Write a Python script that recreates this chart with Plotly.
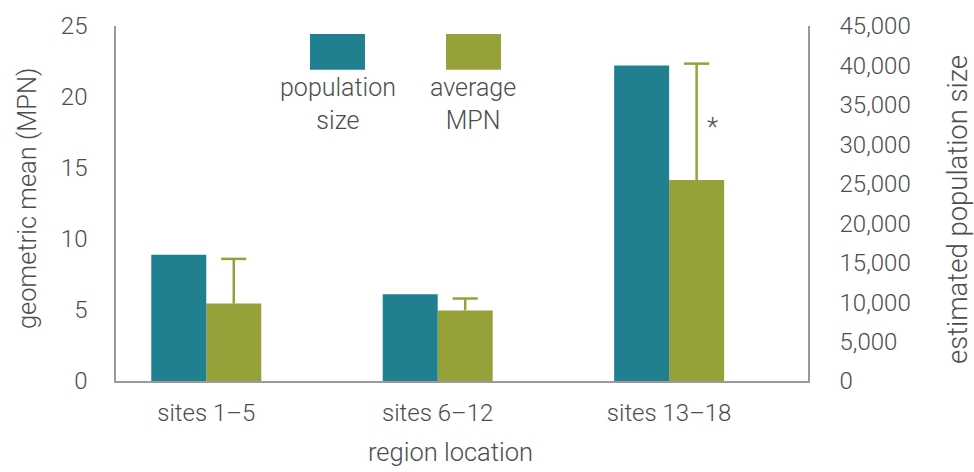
import plotly.graph_objects as go

# Data
regions = ["sites 1–5", "sites 6–12", "sites 13–18"]
population_size = [16000, 11000, 40000]
average_mpn = [5.45, 4.97, 14.15]
mpn_error_plus = [3.15, 0.84, 8.2]

left_ticks = [0, 5, 10, 15, 20, 25]
right_ticks = [0, 5000, 10000, 15000, 20000, 25000, 30000, 35000, 40000, 45000]

TEAL = "#218090"
OLIVE = "#96A13A"
TEXT = "#4d4d4d"
AXIS = "#9a9a9a"
FONT = dict(family="Roboto, Helvetica Neue, Arial, sans-serif", size=24, color=TEXT, weight=300)

bar_w = 0.2376
positions = list(range(len(regions)))
mpn_centers = [p + bar_w / 2 for p in positions]
mpn_tops = [v + e for v, e in zip(average_mpn, mpn_error_plus)]

fig = go.Figure()

fig.add_trace(go.Bar(
    x=positions, y=population_size, yaxis="y2",
    width=bar_w, offset=-bar_w,
    marker=dict(color=TEAL, line=dict(width=0)),
    name="population size", showlegend=False,
))

fig.add_trace(go.Bar(
    x=positions, y=average_mpn, yaxis="y",
    width=bar_w, offset=0,
    marker=dict(color=OLIVE, line=dict(width=0)),
    error_y=dict(type="data", symmetric=False, array=mpn_error_plus,
                 arrayminus=[0, 0, 0], color=OLIVE, thickness=2.5, width=0),
    name="average MPN", showlegend=False,
))

# Caps at the upper end of the error bars
fig.add_trace(go.Scatter(
    x=mpn_centers, y=mpn_tops, yaxis="y", mode="markers",
    marker=dict(symbol="line-ew", size=18, line=dict(width=2.5, color=OLIVE)),
    showlegend=False, hoverinfo="skip",
))

# Significance marker
fig.add_annotation(x=2.186, y=17.9, xref="x", yref="y", text="*",
                   showarrow=False, font=dict(FONT, size=26))

# Legend swatches and labels
fig.add_shape(type="rect", xref="paper", yref="paper",
              x0=0.2803, x1=0.3598, y0=0.8767, y1=0.9776,
              fillcolor=TEAL, line=dict(width=0))
fig.add_shape(type="rect", xref="paper", yref="paper",
              x0=0.4769, x1=0.5564, y0=0.8767, y1=0.9776,
              fillcolor=OLIVE, line=dict(width=0))
fig.add_annotation(x=0.3201, y=0.872, xref="paper", yref="paper",
                   text="population<br>size", showarrow=False,
                   xanchor="center", yanchor="top", font=dict(FONT, size=25))
fig.add_annotation(x=0.5152, y=0.872, xref="paper", yref="paper",
                   text="average<br>MPN", showarrow=False,
                   xanchor="center", yanchor="top", font=dict(FONT, size=25))

# Axis titles
fig.add_annotation(x=0.4835, y=-0.2, xref="paper", yref="paper",
                   text="region location", showarrow=False,
                   xanchor="center", yanchor="middle", font=dict(FONT, size=25.5))
fig.add_annotation(x=-0.1286, y=0.5126, xref="paper", yref="paper",
                   text="geometric mean (MPN)", showarrow=False, textangle=-90,
                   xanchor="center", yanchor="middle", font=dict(FONT, size=25.5))
fig.add_annotation(x=1.2168, y=0.4818, xref="paper", yref="paper",
                   text="estimated population size", showarrow=False, textangle=-90,
                   xanchor="center", yanchor="middle", font=dict(FONT, size=27.5))

fig.update_layout(
    width=974, height=472,
    margin=dict(l=116, r=166, t=24, b=91),
    paper_bgcolor="white", plot_bgcolor="white",
    font=FONT,
    barmode="overlay",
    xaxis=dict(
        range=[-0.39, 2.6], tickvals=positions, ticktext=regions,
        showline=True, linecolor=AXIS, linewidth=1.5,
        showgrid=False, zeroline=False, ticks="",
        ticklabelstandoff=9, tickfont=FONT,
    ),
    yaxis=dict(
        range=[0, 25], tickvals=left_ticks,
        showline=True, linecolor=AXIS, linewidth=1.5,
        showgrid=False, zeroline=False, ticks="",
        ticklabelstandoff=22, tickfont=FONT,
    ),
    yaxis2=dict(
        range=[0, 45000], tickvals=right_ticks, tickformat=",",
        overlaying="y", side="right",
        showline=True, linecolor=AXIS, linewidth=1.5,
        showgrid=False, zeroline=False, ticks="",
        ticklabelstandoff=25, tickfont=FONT,
    ),
)

fig.write_html("out.html")
